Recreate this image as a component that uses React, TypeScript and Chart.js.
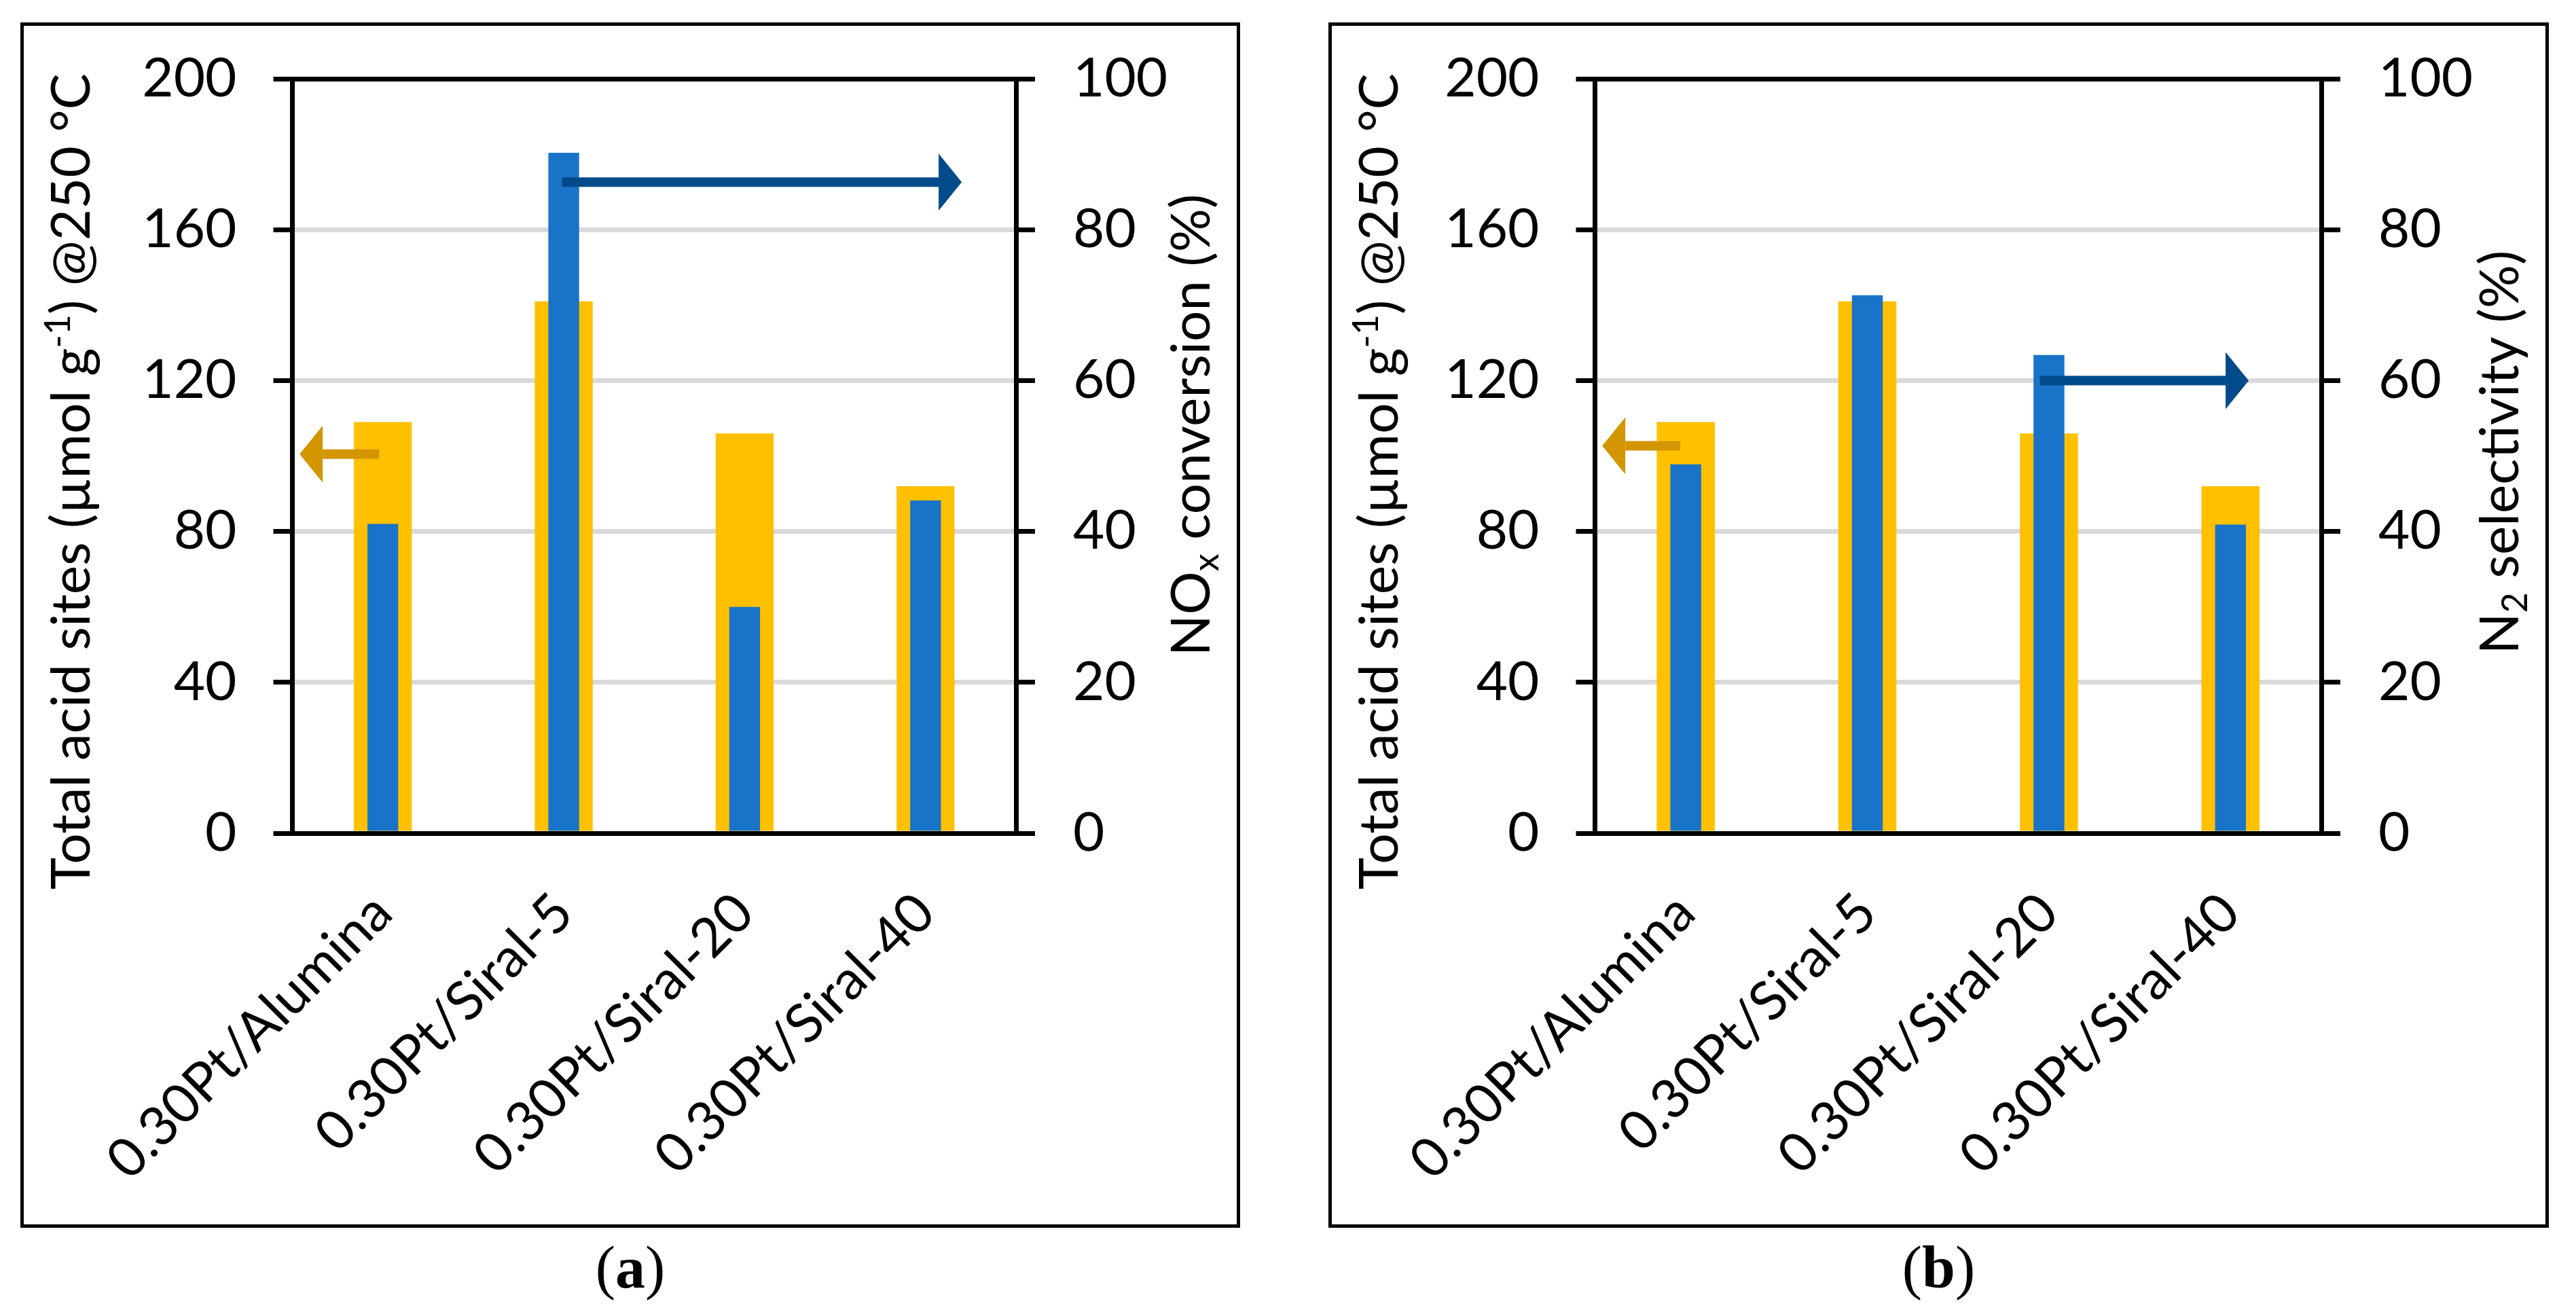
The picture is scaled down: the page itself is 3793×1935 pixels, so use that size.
import { useEffect, useRef } from "react";
import { Chart, registerables } from "chart.js";

Chart.register(...registerables);

// ---- data ----
const catalysts = ["0.30Pt/Alumina", "0.30Pt/Siral-5", "0.30Pt/Siral-20", "0.30Pt/Siral-40"];
const acidSites = [109, 141, 106, 92]; // µmol/g, left axis (both panels)
const noxConversion = [41, 90.2, 30, 44.1]; // %, panel (a)
const n2Selectivity = [48.9, 71.3, 63.4, 40.9]; // %, panel (b)
const leftTicks = [0, 40, 80, 120, 160, 200];
const rightTicks = [0, 20, 40, 60, 80, 100];

const YELLOW = "#FFC000";
const BLUE = "#1973C8";
const GOLD = "#D39500";
const NAVY = "#024B8A";
const FONT = "Lato";
const FS = 80;

type Run = { text: string; kind?: "sup" | "sub" };
type Arrow = { from: number; to: number; value: number; axis: "y" | "y1"; color: string };

const leftTitle: Run[] = [
  { text: "Total acid sites (µmol g" },
  { text: "-1", kind: "sup" },
  { text: ") @250 °C" },
];

// arrows: x in category index, y in the units of the axis they point to
const arrowsA: Arrow[] = [
  { from: -0.02, to: -0.46, value: 100.5, axis: "y", color: GOLD },
  { from: 0.99, to: 3.2, value: 86.3, axis: "y1", color: NAVY },
];
const arrowsB: Arrow[] = [
  { from: -0.03, to: -0.46, value: 102.7, axis: "y", color: GOLD },
  { from: 1.95, to: 3.1, value: 60, axis: "y1", color: NAVY },
];

function drawRuns(ctx: CanvasRenderingContext2D, runs: Run[], baseX: number, centerY: number) {
  const small = Math.round(FS * 0.65);
  const fontOf = (r: Run) => `${r.kind ? small : FS}px ${FONT}`;
  let total = 0;
  for (const r of runs) {
    ctx.font = fontOf(r);
    total += ctx.measureText(r.text).width;
  }
  ctx.save();
  ctx.translate(baseX, centerY);
  ctx.rotate(-Math.PI / 2);
  ctx.fillStyle = "#000";
  ctx.textAlign = "left";
  ctx.textBaseline = "alphabetic";
  let x = -total / 2;
  for (const r of runs) {
    ctx.font = fontOf(r);
    const dy = r.kind === "sup" ? -FS * 0.36 : r.kind === "sub" ? FS * 0.16 : 0;
    ctx.fillText(r.text, x, dy);
    x += ctx.measureText(r.text).width;
  }
  ctx.restore();
}

type PanelProps = {
  boxLeft: number;
  boxWidth: number;
  caption: string;
  values: number[];
  seriesName: string;
  rightTitle: Run[];
  arrows: Arrow[];
  plotLeft: number; // chart area edges, relative to canvas
  plotRight: number;
  leftTitleY: number;
  rightTitleY: number;
};

const BOX_TOP = 33;
const BOX_H = 1775;
const BORDER = 5;

function Panel(p: PanelProps) {
  const canvasRef = useRef<HTMLCanvasElement>(null);
  const chartRef = useRef<Chart | null>(null);
  const cw = p.boxWidth - 2 * BORDER;
  const ch = BOX_H - 2 * BORDER;
  const plotTop = 78;
  const plotBottom = 1189;

  useEffect(() => {
    if (!canvasRef.current) return;
    if (chartRef.current) chartRef.current.destroy();

    const overlay = {
      id: "overlay",
      afterDatasetsDraw(chart: Chart) {
        const ctx = chart.ctx;
        const xs = chart.scales.x;
        for (const a of p.arrows) {
          const x0 = xs.getPixelForValue(a.from);
          const x1 = xs.getPixelForValue(a.to);
          const y = chart.scales[a.axis].getPixelForValue(a.value);
          const dir = Math.sign(x1 - x0);
          const headBase = x1 - dir * 34;
          ctx.save();
          ctx.fillStyle = a.color;
          ctx.fillRect(Math.min(x0, headBase), y - 7, Math.abs(headBase - x0), 14);
          ctx.beginPath();
          ctx.moveTo(x1, y);
          ctx.lineTo(headBase, y - 42);
          ctx.lineTo(headBase, y + 42);
          ctx.closePath();
          ctx.fill();
          ctx.restore();
        }
      },
      afterDraw(chart: Chart) {
        const ctx = chart.ctx;
        drawRuns(ctx, leftTitle, 97, p.leftTitleY);
        drawRuns(ctx, p.rightTitle, cw - 40, p.rightTitleY);
      },
    };

    const tickFont = { family: FONT, size: FS };
    const gridColor = (c: any) =>
      c.tick && (c.tick.value === 200 || c.tick.value === 0) ? "#000" : "#D9D9D9";
    // keep the chart area exactly where it is asked for
    const noPad = (s: any) => {
      s.paddingTop = 0;
      s.paddingBottom = 0;
      s.paddingLeft = 0;
      s.paddingRight = 0;
    };

    chartRef.current = new Chart(canvasRef.current, {
      type: "bar",
      data: {
        labels: catalysts,
        datasets: [
          {
            label: "Total acid sites",
            data: acidSites,
            backgroundColor: YELLOW,
            yAxisID: "y",
            grouped: false,
            categoryPercentage: 1,
            barPercentage: 0.32,
            order: 2,
          },
          {
            label: p.seriesName,
            data: p.values,
            backgroundColor: BLUE,
            yAxisID: "y1",
            grouped: false,
            categoryPercentage: 1,
            barPercentage: 0.17,
            order: 1,
          },
        ],
      },
      options: {
        responsive: false,
        animation: false,
        devicePixelRatio: 1,
        layout: { padding: { top: plotTop, left: 0, right: 0, bottom: 0 } },
        plugins: { legend: { display: false }, tooltip: { enabled: false } },
        scales: {
          x: {
            grid: { display: false, drawTicks: false },
            border: { color: "#000", width: 7 },
            ticks: {
              color: "#000",
              font: tickFont,
              minRotation: 45,
              maxRotation: 45,
              autoSkip: false,
              padding: 70,
            },
            afterFit: (s: any) => {
              s.height = ch - plotBottom;
              noPad(s);
            },
          },
          y: {
            position: "left",
            min: 0,
            max: 200,
            afterBuildTicks: (s: any) => {
              s.ticks = leftTicks.map((v) => ({ value: v }));
            },
            grid: { color: gridColor, lineWidth: 7, tickColor: "#000", tickWidth: 7, tickLength: 28 },
            border: { color: "#000", width: 7 },
            ticks: { color: "#000", font: tickFont, padding: 54 },
            afterFit: (s: any) => {
              s.width = p.plotLeft;
              noPad(s);
            },
          },
          y1: {
            position: "right",
            min: 0,
            max: 100,
            afterBuildTicks: (s: any) => {
              s.ticks = rightTicks.map((v) => ({ value: v }));
            },
            grid: {
              drawOnChartArea: false,
              color: "#000",
              lineWidth: 7,
              tickColor: "#000",
              tickWidth: 7,
              tickLength: 28,
            },
            border: { color: "#000", width: 7 },
            ticks: { color: "#000", font: tickFont, padding: 56 },
            afterFit: (s: any) => {
              s.width = cw - p.plotRight;
              noPad(s);
            },
          },
        },
      },
      plugins: [overlay],
    });

    return () => {
      if (chartRef.current) {
        chartRef.current.destroy();
        chartRef.current = null;
      }
    };
  }, []);

  return (
    <>
      <div
        style={{
          position: "absolute",
          left: p.boxLeft,
          top: BOX_TOP,
          width: p.boxWidth,
          height: BOX_H,
          border: `${BORDER}px solid #000`,
          boxSizing: "border-box",
          background: "#fff",
        }}
      >
        <canvas ref={canvasRef} width={cw} height={ch} style={{ display: "block", width: cw, height: ch }} />
      </div>
      <div
        style={{
          position: "absolute",
          left: p.boxLeft,
          top: 1823,
          width: p.boxWidth,
          textAlign: "center",
          fontFamily: "'Liberation Serif', serif",
          fontSize: 88,
          lineHeight: "88px",
          color: "#000",
        }}
      >
        (<b>{p.caption}</b>)
      </div>
    </>
  );
}

export default function App() {
  return (
    <div style={{ position: "absolute", left: 0, top: 0, width: 3793, height: 1935, background: "#fff" }}>
      <Panel
        boxLeft={30}
        boxWidth={1796}
        caption="a"
        values={noxConversion}
        seriesName="NOx conversion"
        rightTitle={[{ text: "NO" }, { text: "x", kind: "sub" }, { text: " conversion (%)" }]}
        arrows={arrowsA}
        plotLeft={395.5}
        plotRight={1461}
        leftTitleY={671}
        rightTitleY={588}
      />
      <Panel
        boxLeft={1956}
        boxWidth={1797}
        caption="b"
        values={n2Selectivity}
        seriesName="N2 selectivity"
        rightTitle={[{ text: "N" }, { text: "2", kind: "sub" }, { text: " selectivity (%)" }]}
        arrows={arrowsB}
        plotLeft={387.5}
        plotRight={1457}
        leftTitleY={671}
        rightTitleY={628}
      />
    </div>
  );
}
